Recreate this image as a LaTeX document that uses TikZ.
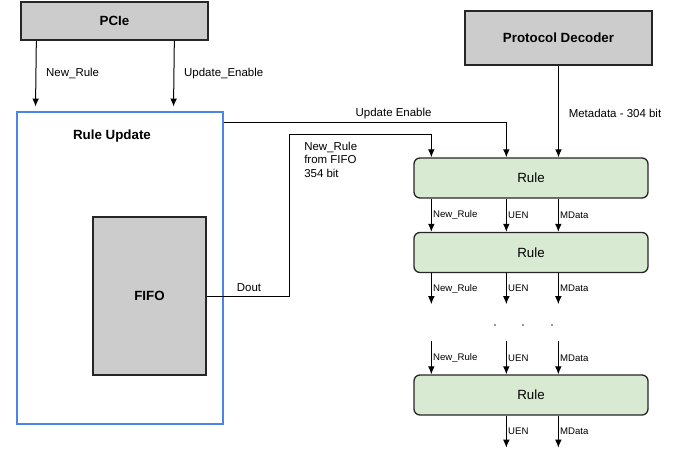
\documentclass[tikz,border=0pt]{standalone}
\usepackage{fontspec}
\setmainfont{Liberation Sans}
\usetikzlibrary{arrows.meta}
\definecolor{rulegreen}{HTML}{D9EAD3}
\definecolor{blockgray}{HTML}{CCCCCC}
\definecolor{edgeblue}{HTML}{4A86E8}
\begin{document}
\begin{tikzpicture}[x=0.75pt,y=-0.75pt,
    box/.style={draw=black!85, fill=blockgray, line width=1pt, font=\bfseries\fontsize{10}{12}\selectfont},
    rulebox/.style={draw=black!85, fill=rulegreen, rounded corners=4.5pt, line width=1pt,
        minimum width=175.5pt, minimum height=30pt, font=\fontsize{10}{12}\selectfont},
    arr/.style={-{Latex[length=6pt,width=5pt]}, line width=0.75pt},
    lbl/.style={font=\fontsize{8.6}{10}\selectfont},
    sml/.style={font=\fontsize{7.2}{8}\selectfont, inner sep=1pt}]
    \useasboundingbox (0,0) rectangle (686,454);
    % blocks
    \node[box, minimum width=140.25pt, minimum height=28.5pt] (pcie) at (114.5,21) {PCIe};
    \node[draw=edgeblue, line width=2.2pt, minimum width=154.5pt, minimum height=234pt] (ru) at (120,268) {};
    \node[font=\bfseries\fontsize{10}{12}\selectfont] (rutitle) at (112,136) {Rule Update};
    \node[box, minimum width=84.75pt, minimum height=118.5pt] (fifo) at (149.5,296) {FIFO};
    \node[box, minimum width=140.25pt, minimum height=40.5pt] (pd) at (558.5,38) {Protocol Decoder};
    \node[rulebox] (r1) at (531,178) {Rule};
    \node[rulebox] (r2) at (531,252.5) {Rule};
    \node[rulebox] (r3) at (531,395) {Rule};
    % PCIe to Rule Update
    \draw[arr] ([xshift=12pt]pcie.south west) -- ([xshift=15pt,yshift=3pt]ru.north west)
        node[lbl, midway, right=4pt]{New\_Rule};
    \draw[arr] ([xshift=115.5pt]pcie.south west) -- ([xshift=118.5pt,yshift=3pt]ru.north west)
        node[lbl, midway, right=4pt]{Update\_Enable};
    % into the first rule
    \coordinate (bend) at (289,134);
    \draw[arr] ([yshift=-9pt]ru.north east) -| ([xshift=69.75pt]r1.north west)
        node[lbl, pos=0.3, above=-1pt]{Update Enable};
    \draw[arr] (fifo.east) -| (bend) -| ([xshift=13.5pt]r1.north west);
    \node[lbl, above] (dout) at (249,296) {Dout};
    \node[lbl, anchor=north west, align=left, inner sep=0pt] (nrtxt) at (304,142) {New\_Rule\\from FIFO\\354 bit};
    \draw[arr] (pd.south) -- (pd.south |- r1.north)
        node[lbl, pos=0.52, right=4pt]{Metadata - 304 bit};
    % rule chain
    \coordinate (gapA) at ([yshift=-23.25pt]r2.south west);
    \coordinate (gapB) at ([yshift=24.75pt]r3.north west);
    \coordinate (gapC) at ([yshift=-24pt]r3.south west);
    \foreach \dx/\txt in {13.5pt/New\_Rule, 69.75pt/UEN, 108.75pt/MData}{
        \draw[arr] ([xshift=\dx]r1.south west) -- ([xshift=\dx]r2.north west) node[sml, midway, right]{\txt};
        \draw[arr] ([xshift=\dx]r2.south west) -- ([xshift=\dx]gapA) node[sml, midway, right]{\txt};
        \draw[arr] ([xshift=\dx]gapB) -- ([xshift=\dx]r3.north west) node[sml, midway, right]{\txt};
    }
    \foreach \dx/\txt in {69.75pt/UEN, 108.75pt/MData}{
        \draw[arr] ([xshift=\dx]r3.south west) -- ([xshift=\dx]gapC) node[sml, midway, right]{\txt};
    }
    \foreach \x [count=\i] in {495,523,552}{
        \node[circle, fill=black!80, inner sep=0.5pt] (dot\i) at (\x,325) {};
    }
\end{tikzpicture}
\end{document}
